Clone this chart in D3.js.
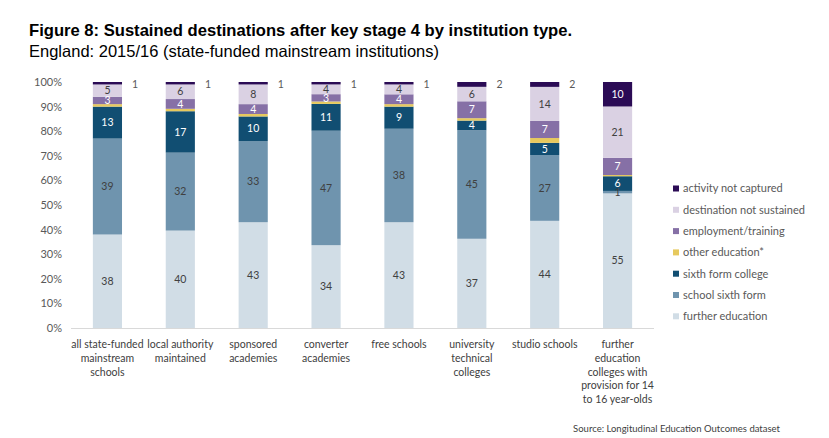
<!DOCTYPE html>
<html>
<head>
<meta charset="utf-8">
<script src="https://cdn.jsdelivr.net/npm/d3@7"></script>
<style>
  body { margin: 0; background: #fff; }
  svg text { font-family: Lato, "Liberation Sans", sans-serif; }
</style>
</head>
<body>
<div id="chart"></div>
<script>

// Institution types (x categories) and their wrapped tick labels
var categories = ["all", "la", "sponsored", "converter", "free", "utc", "studio", "fe"];
var tickLines = [
	["all state-funded", "mainstream", "schools"],
	["local authority", "maintained"],
	["sponsored", "academies"],
	["converter", "academies"],
	["free schools"],
	["university", "technical", "colleges"],
	["studio schools"],
	["further", "education", "colleges with", "provision for 14", "to 16 year-olds"]
];

// Series values (%), bottom to top
var furtherEducation   = [38, 40, 43, 34, 43, 37, 44, 55];
var schoolSixthForm    = [39, 32, 33, 47, 38, 45, 27, 1];
var sixthFormCollege   = [13, 17, 10, 11, 9, 4, 5, 6];
var otherEducation     = [1, 1, 1, 1, 1, 1, 2, 0.5];
var employmentTraining = [3, 4, 4, 3, 4, 7, 7, 7];
var notSustained       = [5, 6, 8, 4, 4, 6, 14, 21];
var notCaptured        = [1, 1, 1, 1, 1, 2, 2, 10];

var seriesNames = ["further education", "school sixth form", "sixth form college",
	"other education*", "employment/training", "destination not sustained", "activity not captured"];
var seriesValues = [furtherEducation, schoolSixthForm, sixthFormCollege,
	otherEducation, employmentTraining, notSustained, notCaptured];
var yTicks = [0, 0.1, 0.2, 0.3, 0.4, 0.5, 0.6, 0.7, 0.8, 0.9, 1];

var colors = ["#d1dde6", "#6f94ae", "#114e72", "#e6c95e", "#8670a6", "#dad1e3", "#2b0b55"];
var whiteLabel = [false, false, true, false, true, false, true];

// build rows for d3.stack
var rows = categories.map(function(c, i) {
	var row = { cat: c };
	seriesNames.forEach(function(s, j) { row[s] = seriesValues[j][i]; });
	return row;
});

var svg = d3.select("#chart").append("svg")
	.attr("width", 829)
	.attr("height", 438);

// Title
svg.append("text")
	.attr("x", 29).attr("y", 36)
	.style("font-family", "'Liberation Sans', Arial, sans-serif")
	.attr("font-weight", "bold")
	.attr("font-size", 16.6)
	.attr("fill", "#000")
	.text("Figure 8: Sustained destinations after key stage 4 by institution type.");

svg.append("text")
	.attr("x", 29).attr("y", 57)
	.style("font-family", "'Liberation Sans', Arial, sans-serif")
	.attr("font-size", 16.5)
	.attr("fill", "#000")
	.text("England: 2015/16 (state-funded mainstream institutions)");

// Scales
var x = d3.scaleBand()
	.domain(categories)
	.range([71, 654])
	.paddingInner(0.6)
	.paddingOuter(0.3);

var y = d3.scaleLinear()
	.domain([0, 1])
	.range([328, 82]);

var stack = d3.stack()
	.keys(seriesNames)
	.offset(d3.stackOffsetExpand);
var stacked = stack(rows);

// y axis (labels only)
var yAxis = d3.axisLeft(y)
	.tickValues(yTicks)
	.tickFormat(d3.format(".0%"))
	.tickSize(0)
	.tickPadding(9);

var gy = svg.append("g")
	.attr("class", "y-axis")
	.attr("transform", "translate(71,0)")
	.call(yAxis);
gy.select(".domain").remove();
gy.selectAll("text")
	.attr("font-size", 11)
	.attr("fill", "#595959");

// baseline
svg.append("line")
	.attr("x1", 71).attr("x2", 654)
	.attr("y1", y(0) + 0.5).attr("y2", y(0) + 0.5)
	.attr("stroke", "#d9d9d9")
	.attr("stroke-width", 1);

// Bars
var layers = svg.selectAll(".layer")
	.data(stacked)
	.enter().append("g")
	.attr("class", "layer")
	.attr("fill", function(d, i) { return colors[i]; });

layers.selectAll("rect")
	.data(function(d) { return d; })
	.enter().append("rect")
	.attr("x", function(d) { return x(d.data.cat); })
	.attr("width", x.bandwidth())
	.attr("y", function(d) { return y(d[1]); })
	.attr("height", function(d) { return y(d[0]) - y(d[1]); });

// Segment labels
stacked.forEach(function(layer, j) {
	if (j === 3) return; // other education not labelled
	layer.forEach(function(d, i) {
		var v = seriesValues[j][i];
		var outside = (j === 6 && v < 3);
		svg.append("text")
			.attr("class", "bar-label")
			.attr("x", outside ? x(d.data.cat) + x.bandwidth() + 10 : x(d.data.cat) + x.bandwidth() / 2)
			.attr("y", outside ? y(d[1]) + 2 : (y(d[0]) + y(d[1])) / 2)
			.attr("dy", ".35em")
			.attr("text-anchor", outside ? "start" : "middle")
			.attr("font-size", 10.5)
			.attr("fill", outside ? "#595959" : (whiteLabel[j] ? "#fff" : "#404040"))
			.text(v);
	});
});

// x tick labels
var xl = svg.selectAll(".x-label")
	.data(categories)
	.enter().append("text")
	.attr("class", "x-label")
	.attr("text-anchor", "middle")
	.attr("font-size", 10.5)
	.attr("fill", "#404040")
	.attr("x", function(d) { return x(d) + x.bandwidth() / 2; })
	.attr("y", 348);

xl.selectAll("tspan")
	.data(function(d, i) { return tickLines[i]; })
	.enter().append("tspan")
	.attr("x", function() { return d3.select(this.parentNode).attr("x"); })
	.attr("dy", function(d, k) { return k === 0 ? 0 : 13.8; })
	.text(function(d) { return d; });

// Legend (top to bottom = top of stack first)
var legendNames = seriesNames.slice().reverse();
var legendColors = colors.slice().reverse();
var legend = svg.selectAll(".legend")
	.data(legendNames)
	.enter().append("g")
	.attr("class", "legend")
	.attr("transform", function(d, i) { return "translate(673," + (188.5 + i * 21.3) + ")"; });

legend.append("rect")
	.attr("x", 0).attr("y", -3)
	.attr("width", 6).attr("height", 6)
	.attr("fill", function(d, i) { return legendColors[i]; });

legend.append("text")
	.attr("x", 10)
	.attr("dy", ".35em")
	.attr("font-size", 11)
	.attr("fill", "#595959")
	.text(function(d) { return d; });

// Source
svg.append("text")
	.attr("x", 780).attr("y", 432)
	.attr("text-anchor", "end")
	.attr("font-size", 9.5)
	.attr("fill", "#404040")
	.text("Source: Longitudinal Education Outcomes dataset");

</script>
</body>
</html>
